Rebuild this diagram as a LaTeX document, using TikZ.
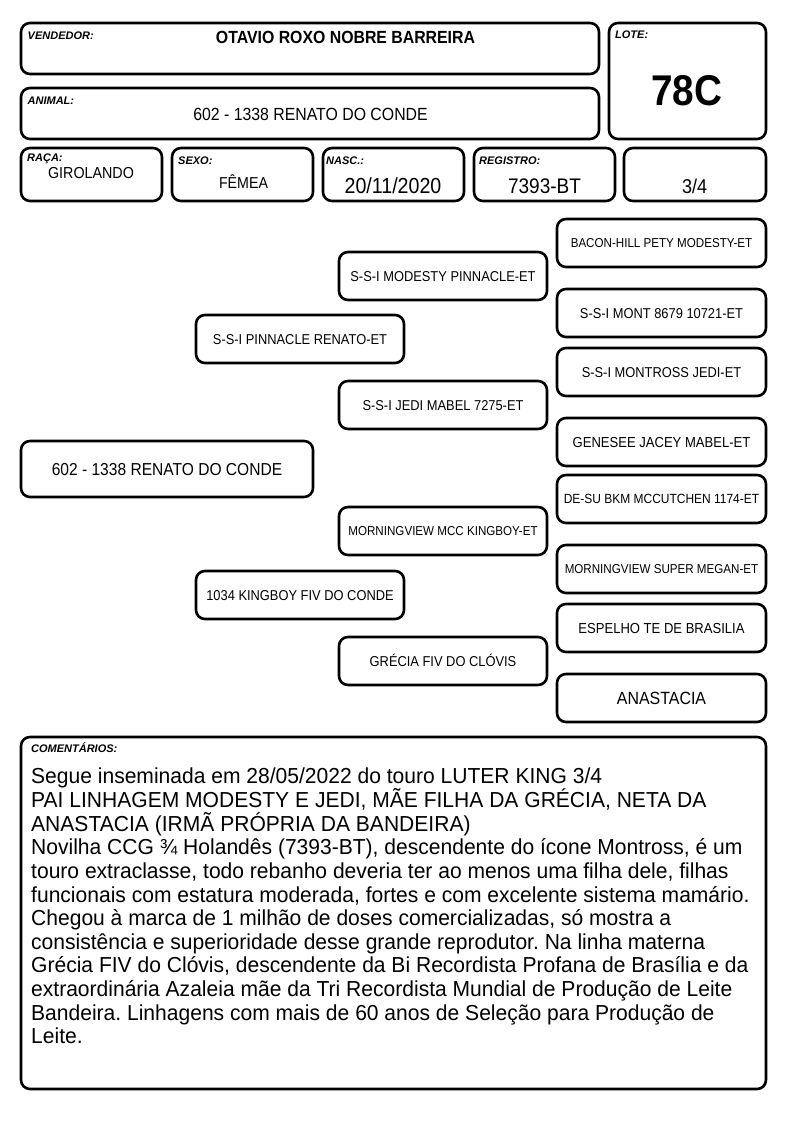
\documentclass[tikz,border=0pt]{standalone}
\usepackage{fontspec}
\setmainfont{Liberation Sans}
\newfontfamily\cond[FakeStretch=0.9]{Liberation Sans}
\newfontfamily\obsfont[FakeStretch=0.97]{Liberation Sans}
\usepackage{tikz}
\frenchspacing

\tikzset{
  box/.style={draw, line width=2.6pt, rounded corners=9pt, inner sep=0pt},
  tag/.style={anchor=base west, inner sep=0pt, font=\fontsize{11}{12}\selectfont\bfseries\itshape},
  val/.style={anchor=base, inner sep=0pt},
  cell/.style={box, minimum width=141pt, minimum height=53pt},
  ped/.style={box, minimum width=208pt, minimum height=48pt, text height=10.2pt, text depth=0pt, font=\cond\fontsize{14.3}{16}\selectfont},
}

\begin{document}
\begin{tikzpicture}[x=1pt, y=-1pt]
\useasboundingbox (0,0) rectangle (794,1123);

% cabecalho
\node[box, name=vend, minimum width=578pt, minimum height=51pt] at (310,48.5) {};
\node[tag, name=vendtag] at (27.5,39.3) {VENDEDOR:};
\node[val, name=vendval, font=\cond\fontsize{17.6}{20}\selectfont\bfseries] at (345.5,43.5) {OTAVIO ROXO NOBRE BARREIRA};

\node[box, name=anim, minimum width=578pt, minimum height=51pt] at (310,113.5) {};
\node[tag, name=animtag] at (27.5,104.3) {ANIMAL:};
\node[val, name=animval, font=\cond\fontsize{17.6}{20}\selectfont] at (310.5,120.3) {602 - 1338 RENATO DO CONDE};

\node[box, name=lote, minimum width=157pt, minimum height=116pt] at (687.5,81) {};
\node[tag, name=lotetag] at (615,39) {LOTE:};
\node[val, name=loteval, font=\cond\fontsize{43}{45}\selectfont\bfseries] at (686.5,105.7) {78C};

\node[cell, name=raca] at (91.5,174.5) {};
\node[tag, name=racatag] at (27,161.7) {RAÇA:};
\node[val, name=racaval, font=\cond\fontsize{15.9}{18}\selectfont] at (91,178.3) {GIROLANDO};

\node[cell, name=sexo] at (242.5,174.5) {};
\node[tag, name=sexotag] at (178,165) {SEXO:};
\node[val, name=sexoval, font=\cond\fontsize{15.8}{18}\selectfont] at (243.5,189) {FÊMEA};

\node[cell, name=nasc] at (393.5,174.5) {};
\node[tag, name=nasctag] at (326,165) {NASC.:};
\node[val, name=nascval, font=\cond\fontsize{21.8}{24}\selectfont] at (393,193.3) {20/11/2020};

\node[cell, name=reg] at (544.5,174.5) {};
\node[tag, name=regtag] at (479,165) {REGISTRO:};
\node[val, name=regval, font=\cond\fontsize{21.1}{24}\selectfont] at (544.5,193.3) {7393-BT};

\node[cell, name=grau, minimum width=142pt] at (695,174.5) {};
\node[val, name=grauval, font=\cond\fontsize{20}{22}\selectfont] at (694.5,193.3) {3/4};

% genealogia
\node[ped, name=p0, minimum width=292pt, minimum height=56pt, text height=12.4pt, font=\cond\fontsize{17.3}{20}\selectfont] at (167,469) {602 - 1338 RENATO DO CONDE};

\node[ped, name=pai] at (300,339) {S-S-I PINNACLE RENATO-ET};
\node[ped, name=mae] at (300,595) {1034 KINGBOY FIV DO CONDE};

\node[ped, name=avo1] at (443,276) {S-S-I MODESTY PINNACLE-ET};
\node[ped, name=avo2] at (443,405) {S-S-I JEDI MABEL 7275-ET};
\node[ped, name=avo3, text height=9.2pt, font=\cond\fontsize{12.9}{15}\selectfont] at (443,531) {MORNINGVIEW MCC KINGBOY-ET};
\node[ped, name=avo4] at (443,661) {GRÉCIA FIV DO CLÓVIS};

\node[ped, name=bis1, minimum width=209pt, text height=9.2pt, font=\cond\fontsize{12.9}{15}\selectfont] at (661.5,243) {BACON-HILL PETY MODESTY-ET};
\node[ped, name=bis2, minimum width=209pt] at (661.5,313) {S-S-I MONT 8679 10721-ET};
\node[ped, name=bis3, minimum width=209pt] at (661.5,372) {S-S-I MONTROSS JEDI-ET};
\node[ped, name=bis4, minimum width=209pt, text height=10.4pt, font=\cond\fontsize{14.5}{16}\selectfont] at (661.5,442) {GENESEE JACEY MABEL-ET};
\node[ped, name=bis5, minimum width=209pt, text height=9.5pt, font=\cond\fontsize{13.3}{15}\selectfont] at (661.5,499) {DE-SU BKM MCCUTCHEN 1174-ET};
\node[ped, name=bis6, minimum width=209pt, text height=9.2pt, font=\cond\fontsize{12.9}{15}\selectfont] at (661.5,569) {MORNINGVIEW SUPER MEGAN-ET};
\node[ped, name=bis7, minimum width=209pt, text height=10.4pt, font=\cond\fontsize{14.5}{16}\selectfont] at (661.5,628) {ESPELHO TE DE BRASILIA};
\node[ped, name=bis8, minimum width=209pt, text height=12.7pt, font=\cond\fontsize{17.7}{20}\selectfont] at (661.5,698) {ANASTACIA};

% comentarios
\node[box, name=obs, minimum width=745pt, minimum height=352pt] at (393.5,913) {};
\node[tag, name=obstag] at (31,752) {COMENTÁRIOS:};
\node[name=obstxt, anchor=north west, inner sep=0pt, align=left, font=\obsfont\fontsize{21.7}{23.63}\selectfont] at (31,768) {Segue inseminada em 28/05/2022 do touro LUTER KING 3/4\\
PAI LINHAGEM MODESTY E JEDI, MÃE FILHA DA GRÉCIA, NETA DA\\
ANASTACIA (IRMÃ PRÓPRIA DA BANDEIRA)\\
Novilha CCG ¾ Holandês (7393-BT), descendente do ícone Montross, é um\\
touro extraclasse, todo rebanho deveria ter ao menos uma filha dele, filhas\\
funcionais com estatura moderada, fortes e com excelente sistema mamário.\\
Chegou à marca de 1 milhão de doses comercializadas, só mostra a\\
consistência e superioridade desse grande reprodutor. Na linha materna\\
Grécia FIV do Clóvis, descendente da Bi Recordista Profana de Brasília e da\\
extraordinária Azaleia mãe da Tri Recordista Mundial de Produção de Leite\\
Bandeira. Linhagens com mais de 60 anos de Seleção para Produção de\\
Leite.};
\end{tikzpicture}
\end{document}
